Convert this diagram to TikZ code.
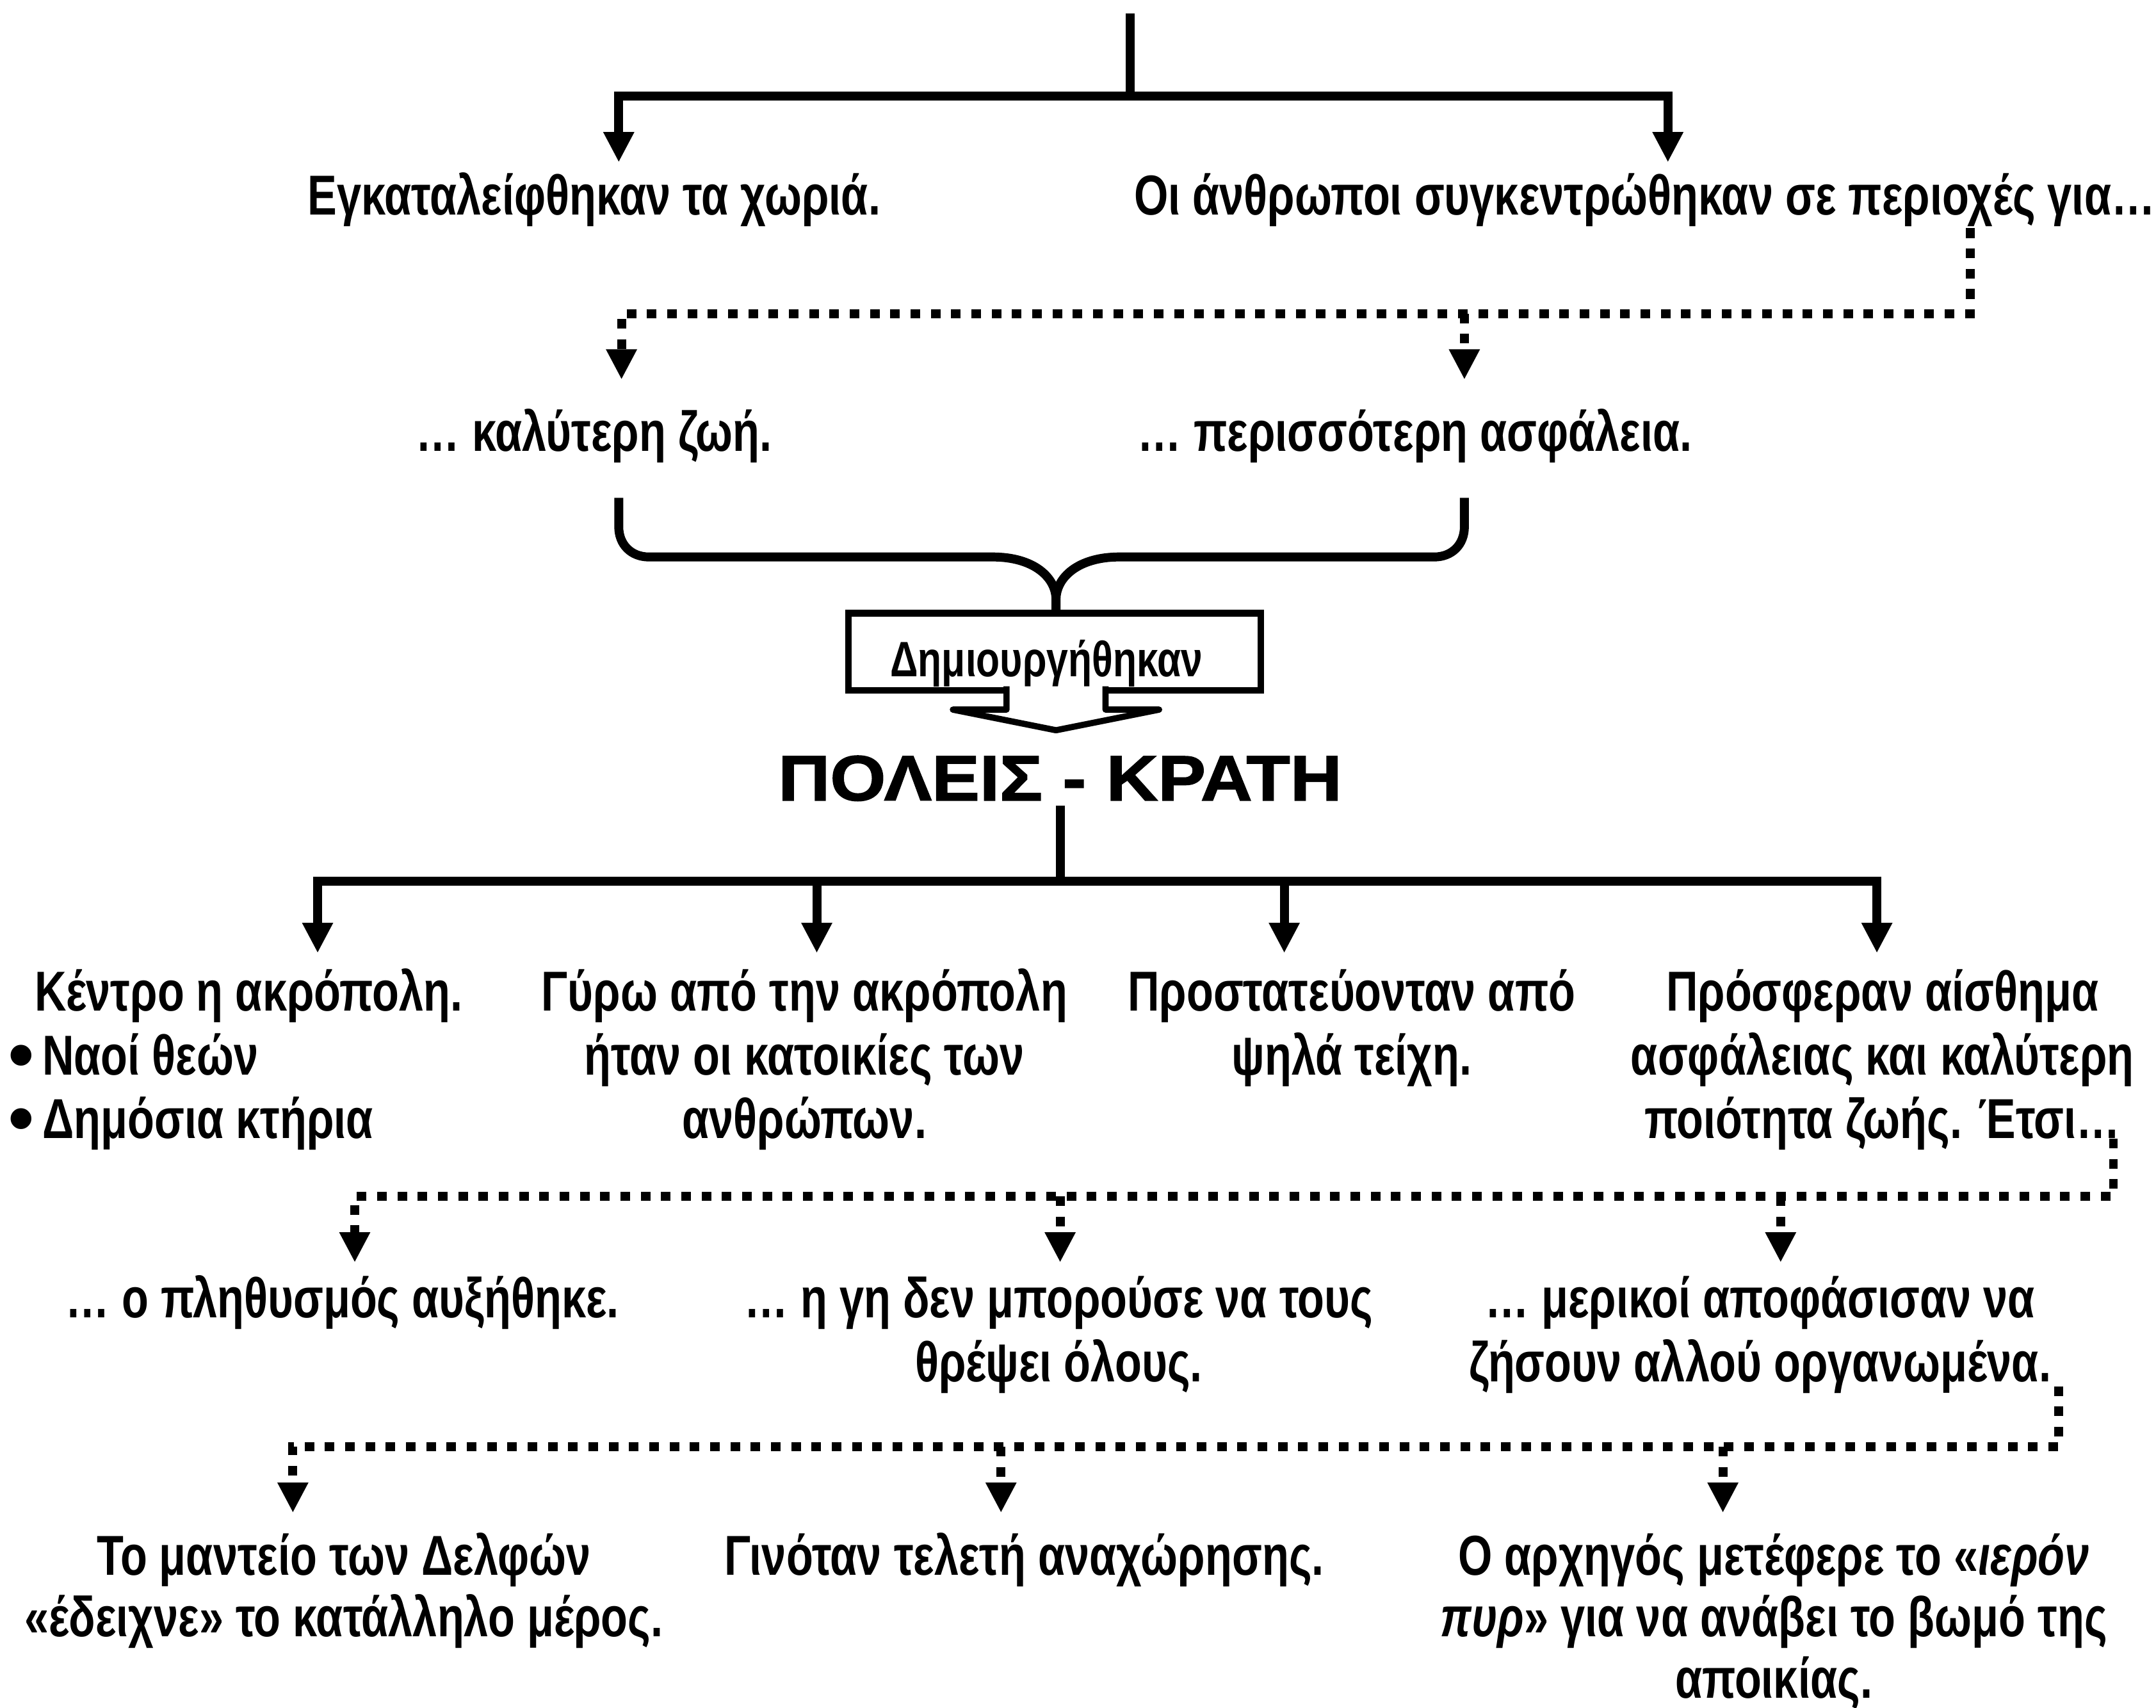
\documentclass[tikz,border=0pt]{standalone}
\usepackage{fontspec}
\setmainfont{Liberation Sans}[FakeStretch=0.78]
\newfontfamily\widefont{Liberation Sans}[FakeStretch=1.12,FakeBold=1.5]
\newfontfamily\bulfont{Liberation Sans}
\usetikzlibrary{arrows.meta}
\newcommand\lnstrut{\rule{0pt}{1em}}
\newcommand\bul{\raisebox{-0.07cm}[0pt][0pt]{\bulfont\fontsize{30}{26}\selectfont •}\hspace{0.12cm}}
\begin{document}
\begin{tikzpicture}[x=0.02cm,y=-0.02cm,
  sl/.style={line width=0.13cm},
  dl/.style={line width=0.13cm, dash pattern=on 0.14cm off 0.155cm},
  arr/.style={-{Triangle[width=0.42cm,length=0.44cm]}},
  txt/.style={font=\bfseries\fontsize{23.3}{26.3}\selectfont, align=center, inner sep=0pt, anchor=north},
  txtb/.style={txt, font=\bfseries\fontsize{23.3}{25.5}\selectfont},
  lbox/.style={draw, line width=0.1cm, minimum width=6cm, minimum height=1.12cm, inner sep=0pt,
     font=\bfseries\fontsize{20.6}{22}\selectfont},
  title/.style={font=\widefont\bfseries\fontsize{26.5}{30}\selectfont, anchor=base, inner sep=0pt}]
\useasboundingbox[fill=white] (0,0) rectangle (1568,1242);

% ---------- row 1
\coordinate (top) at (822,10);
\coordinate (tj) at (822,70);
\coordinate (a11) at (450,118);
\coordinate (a12) at (1213,118);
\node[txt] (n11) at (432,115) {\lnstrut Εγκαταλείφθηκαν τα χωριά.};
\node[txt] (n12) at (1196,115) {\lnstrut Οι άνθρωποι συγκεντρώθηκαν σε περιοχές για…};
\draw[sl] (top) -- (tj);
\draw[sl,arr] (tj) -| (a11);
\draw[sl,arr] (tj) -| (a12);

% ---------- dotted 1
\coordinate (d1s) at (1433,166);
\coordinate (d1c) at (1433,228);
\coordinate (a21) at (452,276);
\coordinate (a22) at (1065,276);
\draw[dl,arr] (d1s) -- (d1c) -| (a21);
\draw[dl,arr] (a22 |- d1c) -- (a22);

% ---------- row 2
\node[txt] (n21) at (432,287) {\lnstrut … καλύτερη ζωή.};
\node[txt] (n22) at (1029,287) {\lnstrut … περισσότερη ασφάλεια.};

% ---------- brace
\coordinate (bl) at (450,362);
\coordinate (br) at (1065,362);
\coordinate (bt) at (768,446);
\draw[sl] (bl) -- (450,383) .. controls (450,396) and (459,405) .. (472,405) -- (722,405)
   .. controls (752,405) and (768,420) .. (768,436) -- (bt);
\draw[sl] (br) -- (1065,383) .. controls (1065,396) and (1056,405) .. (1043,405) -- (814,405)
   .. controls (784,405) and (768,420) .. (768,436) -- (bt);

% ---------- box
\node[lbox] (box) at (767,474) {\hspace*{-0.24cm}\raisebox{-0.36cm}[0pt][0pt]{Δημιουργήθηκαν}};
\draw[line width=0.09cm, fill=white, line join=round]
  (732,499) -- (732,516) -- (693,516) -- (768,531) -- (843,516) -- (804,516) -- (804,499);

% ---------- title
\node[title] (pk) at (771,582) {ΠΟΛΕΙΣ - ΚΡΑΤΗ};
\coordinate (pj) at (771,641);
\coordinate (a31) at (231,693);
\coordinate (a32) at (594,693);
\coordinate (a33) at (934,693);
\coordinate (a34) at (1365,693);
\draw[sl,shorten <=0.06cm] (pk.south) -- (pj);
\draw[sl,arr] (pj) -| (a31);
\draw[sl,arr] (pj) -| (a32);
\draw[sl,arr] (pj) -| (a33);
\draw[sl,arr] (pj) -| (a34);

% ---------- row 3
\node[txt, align=left, anchor=north west] (n31) at (6,694)
  {\lnstrut\hspace*{0.38cm}Κέντρο η ακρόπολη.\\\bul Ναοί θεών\\\bul Δημόσια κτήρια};
\node[txt] (n32) at (585,694) {\lnstrut Γύρω από την ακρόπολη\\ήταν οι κατοικίες των\\ανθρώπων.};
\node[txt] (n33) at (983,694) {\lnstrut Προστατεύονταν από\\ψηλά τείχη.};
\node[txt] (n34) at (1369,694) {\lnstrut Πρόσφεραν αίσθημα\\ασφάλειας και καλύτερη\\ποιότητα ζωής. Έτσι…};

% ---------- dotted 3
\coordinate (d3s) at (1537,828);
\coordinate (d3c) at (1537,870);
\coordinate (a41) at (258,918);
\coordinate (a42) at (771,918);
\coordinate (a43) at (1295,918);
\draw[dl,arr] (d3s) -- (d3c) -| (a41);
\draw[dl,arr] (a42 |- d3c) -- (a42);
\draw[dl,arr] (a43 |- d3c) -- (a43);

% ---------- row 4
\node[txt] (n41) at (249,917) {\lnstrut … ο πληθυσμός αυξήθηκε.};
\node[txt] (n42) at (770,917) {\lnstrut … η γη δεν μπορούσε να τους\\θρέψει όλους.};
\node[txt] (n43) at (1280,917) {\lnstrut … μερικοί αποφάσισαν να\\ζήσουν αλλού οργανωμένα.};

% ---------- dotted 4
\coordinate (d4s) at (1497,1008);
\coordinate (d4c) at (1497,1052);
\coordinate (a51) at (213,1100);
\coordinate (a52) at (728,1100);
\coordinate (a53) at (1253,1100);
\draw[dl,arr] (d4s) -- (d4c) -| (a51);
\draw[dl,arr] (a52 |- d4c) -- (a52);
\draw[dl,arr] (a53 |- d4c) -- (a53);

% ---------- row 5
\node[txtb] (n51) at (250,1104) {\lnstrut Το μαντείο των Δελφών\\«έδειχνε» το κατάλληλο μέρος.};
\node[txtb] (n52) at (745,1104) {\lnstrut Γινόταν τελετή αναχώρησης.};
\node[txtb] (n53) at (1290,1104) {\lnstrut Ο αρχηγός μετέφερε το «\textit{ιερόν}\\\textit{πυρ}» για να ανάβει το βωμό της\\αποικίας.};
\end{tikzpicture}
\end{document}
